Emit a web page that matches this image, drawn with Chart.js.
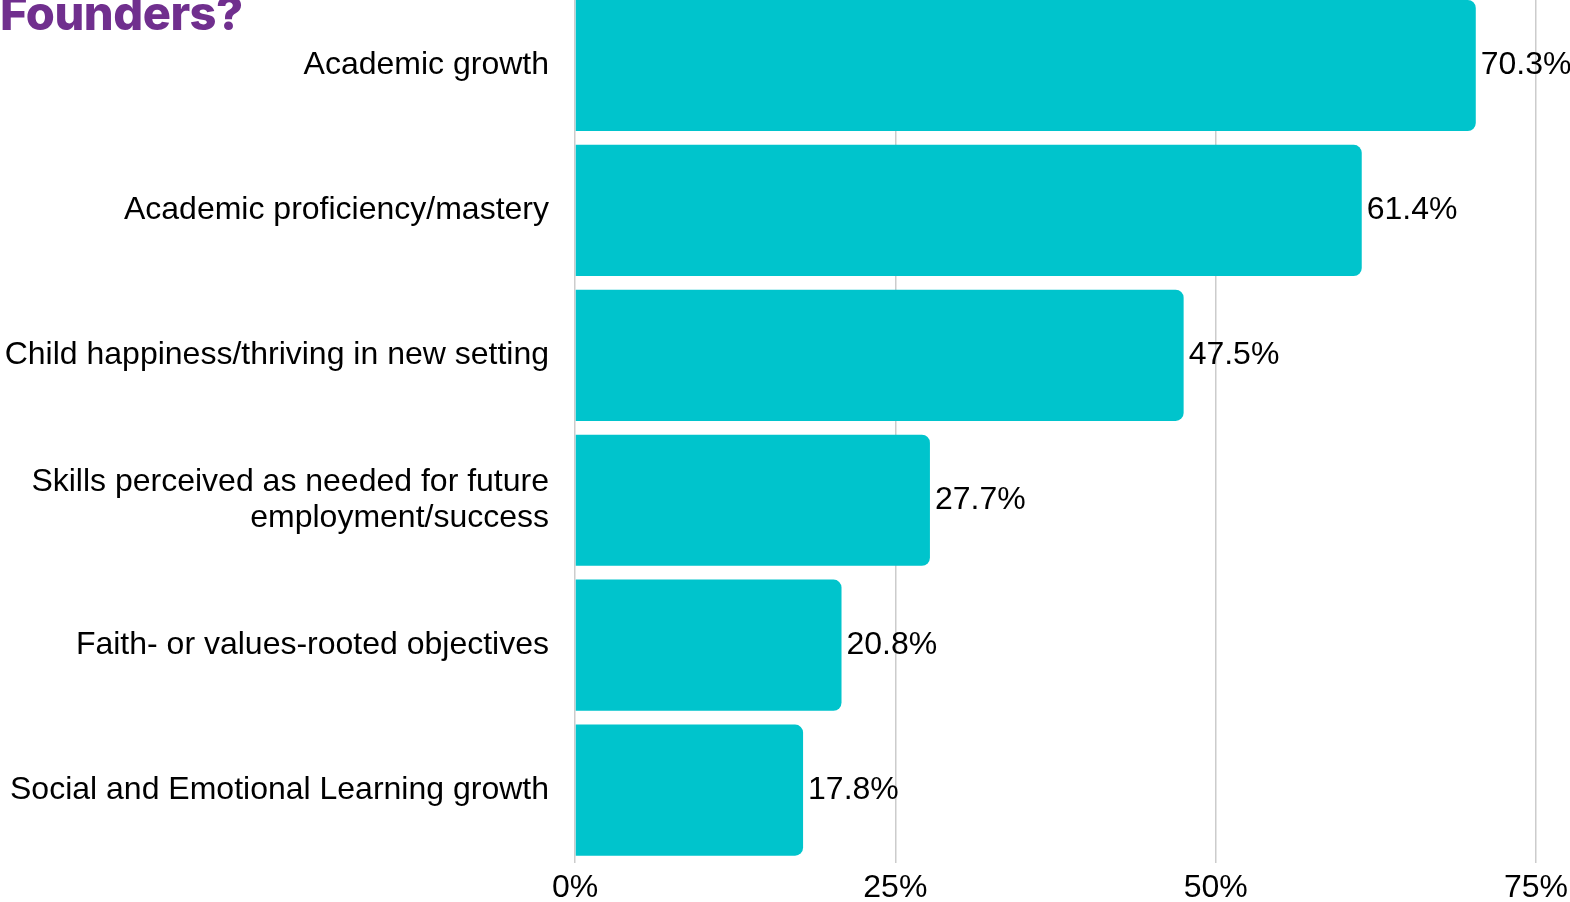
<!DOCTYPE html>
<html>
<head>
<meta charset="utf-8">
<script src="https://cdn.jsdelivr.net/npm/chart.js@4"></script>
<style>
  html, body { margin: 0; padding: 0; background: #fff; overflow: hidden; }
  #wrap { position: relative; width: 1570px; height: 902px; overflow: hidden; }
  #title {
    position: absolute; left: 0; top: -16px;
    font-family: Inter, "Open Sans", sans-serif; font-weight: 800;
    font-size: 47px; color: #702F8E; letter-spacing: -0.5px; white-space: nowrap;
  }
  #box { position: absolute; left: 0; top: -7px; width: 1570px; height: 920px; }
</style>
</head>
<body>
<div id="wrap">
  <div id="box"><canvas id="myChart"></canvas></div>
  <div id="title">Founders?</div>
</div>
<script>
// horizontal bar chart of founder priorities

const categories = [
    'Academic growth',
    'Academic proficiency/mastery',
    'Child happiness/thriving in new setting',
    ['Skills perceived as needed for future', 'employment/success'],
    'Faith- or values-rooted objectives',
    'Social and Emotional Learning growth'
]
const shares = [70.3, 61.4, 47.5, 27.7, 20.8, 17.8]
const xTicks = [0, 25, 50, 75]

const barColor = '#00C4CC'
const textFont = { family: '"Liberation Sans", Arial, sans-serif', size: 32 }

// value labels right of each bar
const valueLabels = {
    id: 'valueLabels',
    afterDatasetsDraw(chart) {
        const ctx = chart.ctx
        const meta = chart.getDatasetMeta(0)
        ctx.save()
        ctx.font = `${textFont.size}px ${textFont.family}`
        ctx.fillStyle = '#000'
        ctx.textAlign = 'left'
        ctx.textBaseline = 'middle'
        meta.data.forEach((bar, i) => {
            ctx.fillText(shares[i].toFixed(1) + '%', bar.x + 5, bar.y)
        })
        ctx.restore()
    }
}

new Chart(document.getElementById('myChart'), {
    type: 'bar',
    data: {
        labels: categories,
        datasets: [{
            data: shares,
            backgroundColor: barColor,
            borderRadius: { topRight: 8, bottomRight: 8, topLeft: 0, bottomLeft: 0 },
            borderSkipped: false,
            categoryPercentage: 1,
            barPercentage: 0.905
        }]
    },
    options: {
        indexAxis: 'y',
        responsive: true,
        maintainAspectRatio: false,
        animation: false,
        layout: { padding: { left: 0, right: 34, top: 0, bottom: 0 } },
        plugins: {
            legend: { display: false },
            tooltip: { enabled: false }
        },
        scales: {
            x: {
                min: 0,
                max: 75,
                afterBuildTicks: (scale) => { scale.ticks = xTicks.map(v => ({ value: v })) },
                afterFit: (scale) => { scale.paddingLeft = 0; scale.paddingRight = 0 },
                grid: { color: '#cccccc', lineWidth: 1.5, drawTicks: false },
                border: { display: false },
                ticks: {
                    padding: 6,
                    color: '#000',
                    font: textFont,
                    callback: (v) => v + '%'
                }
            },
            y: {
                afterFit: (scale) => {
                    scale.width = 575
                    scale.paddingTop = 0
                    scale.paddingBottom = 0
                },
                grid: { display: false, drawTicks: false },
                border: { display: false },
                ticks: {
                    padding: 26,
                    color: '#000',
                    font: { ...textFont, lineHeight: 1.12 },
                    autoSkip: false
                }
            }
        }
    },
    plugins: [valueLabels]
})
</script>
</body>
</html>
